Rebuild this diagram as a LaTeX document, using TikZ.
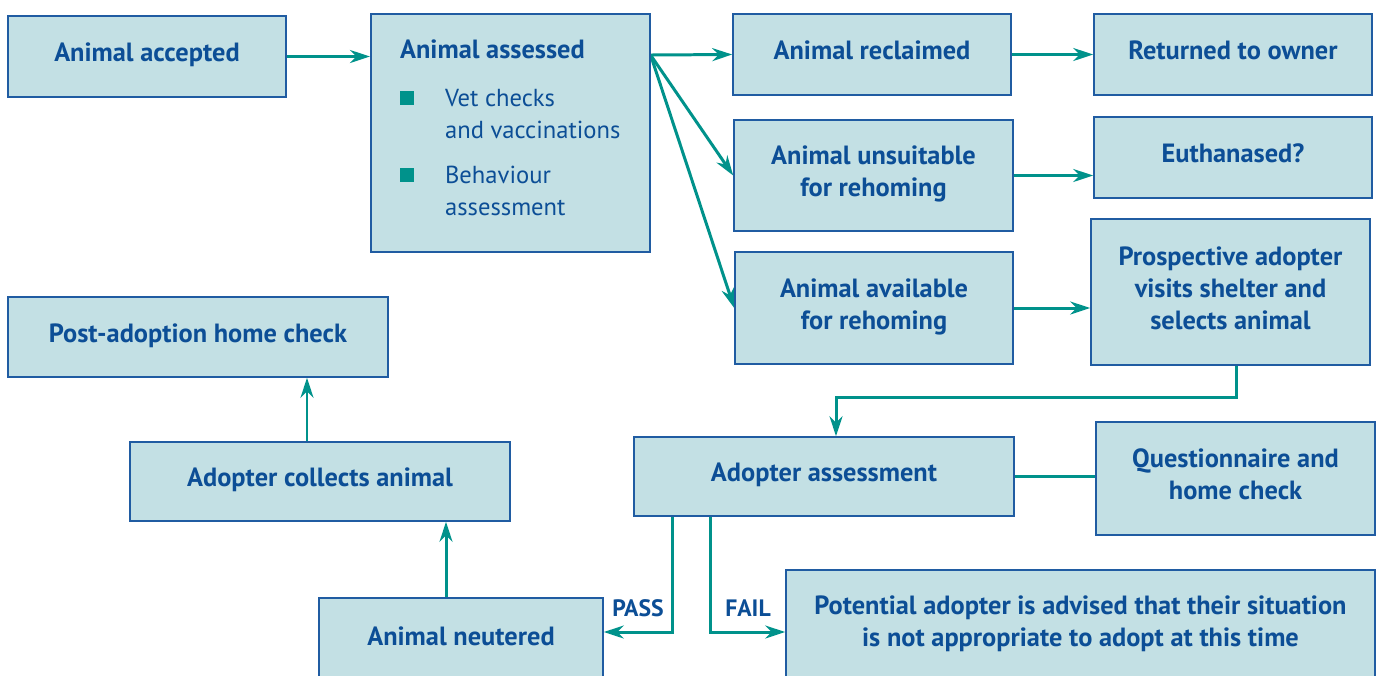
\documentclass[tikz,border=0pt]{standalone}
\usepackage{fontspec}
\setmainfont{PT Sans}
\usepackage{tikz}
\usetikzlibrary{arrows.meta}
\pgfdeclarelayer{bg}
\pgfsetlayers{bg,main}
\definecolor{boxfill}{RGB}{195,224,228}
\definecolor{boxline}{RGB}{32,92,162}
\definecolor{boxtext}{RGB}{12,78,150}
\definecolor{flow}{RGB}{0,146,139}
\tikzset{
  stage/.style={draw=boxline, line width=0.9pt, fill=boxfill, text=boxtext,
    font=\fontsize{15}{18.2}\selectfont\bfseries, align=center, inner sep=0pt,
    text depth=0.16cm, minimum width=5.56cm, minimum height=1.62cm},
  flowarrow/.style={draw=flow, line width=1.7pt, -{Stealth[length=4mm,width=2.6mm]}},
  flowline/.style={draw=flow, line width=1.7pt},
  verdict/.style={text=boxtext, font=\fontsize{13.5}{16}\selectfont\bfseries, inner sep=0pt}
}
\newcommand{\bulletsq}{\makebox[0.9cm][l]{\textcolor{flow}{\rule[0.03cm]{0.27cm}{0.27cm}}}}
\newcommand{\checkfont}{\mdseries\fontsize{14}{17.4}\selectfont}
\begin{document}
\begin{tikzpicture}
        \useasboundingbox (0,0) rectangle (27.58,-13.5);
        \node (accepted) [stage] at (2.94cm, -1.13cm) {Animal accepted};
        \node (assessed) [stage, anchor=north west, minimum width=5.58cm, minimum height=4.76cm,
          align=left, text depth=0.22cm, inner xsep=0.46cm] at (7.40cm, -0.26cm)
          {Animal assessed\\[0.32cm]
           {\checkfont\bulletsq Vet checks}\\
           {\checkfont\hspace*{0.9cm}and vaccinations}\\[0.26cm]
           {\checkfont\bulletsq Behaviour}\\
           {\checkfont\hspace*{0.9cm}assessment}};
        \node (reclaimed) [stage] at (17.44cm, -1.09cm) {Animal reclaimed};
        \node (returned) [stage] at (24.66cm, -1.09cm) {Returned to owner};
        \node (unsuitable) [stage, minimum width=5.58cm, minimum height=2.22cm] at (17.47cm, -3.51cm) {Animal unsuitable\\for rehoming};
        \node (euthanased) [stage] at (24.66cm, -3.15cm) {Euthanased?};
        \node (available) [stage, minimum height=2.24cm] at (17.48cm, -6.16cm) {Animal available\\for rehoming};
        \node (prospective) [stage, minimum width=5.58cm, minimum height=2.92cm] at (24.61cm, -5.84cm) {Prospective adopter\\visits shelter and\\selects animal};
        \node (homecheck) [stage, minimum width=7.60cm, minimum height=1.60cm] at (3.96cm, -6.74cm) {Post-adoption home check};
        \node (collects) [stage, minimum width=7.60cm, minimum height=1.58cm] at (6.40cm, -9.63cm) {Adopter collects animal};
        \node (adopter) [stage, minimum width=7.60cm, minimum height=1.58cm] at (16.48cm, -9.53cm) {Adopter assessment};
        \node (questionnaire) [stage, minimum width=5.58cm, minimum height=2.26cm] at (24.71cm, -9.57cm) {Questionnaire and\\home check};
        \node (neutered) [stage, minimum width=5.68cm, minimum height=1.68cm] at (9.22cm, -12.80cm) {Animal neutered};
        \node (advised) [stage, minimum width=11.78cm, minimum height=2.20cm] at (21.61cm, -12.50cm) {Potential adopter is advised that their situation\\is not appropriate to adopt at this time};
        \node (pass) [verdict] at (12.76cm, -12.16cm) {PASS};
        \node (fail) [verdict] at (14.96cm, -12.16cm) {FAIL};
        \coordinate (fork) at ([yshift=-0.84cm]assessed.north east);
        \begin{pgfonlayer}{bg}
                \draw (accepted.east) edge [flowarrow] (accepted.east -| assessed.west);
                \draw (fork) edge [flowarrow] (reclaimed.west);
                \draw (fork) edge [flowarrow] (unsuitable.west);
                \draw (fork) edge [flowarrow] (available.west);
                \draw (reclaimed.east) edge [flowarrow] (returned.west);
                \draw (unsuitable.east) edge [flowarrow] (unsuitable.east -| euthanased.west);
                \draw (available.east) edge [flowarrow] (available.east -| prospective.west);
                \draw [flowarrow] ([xshift=0.11cm]prospective.south) |- ([xshift=0.24cm, yshift=0.78cm]adopter.north) -- ([xshift=0.24cm]adopter.north);
                \draw (adopter.east) edge [flowline] (adopter.east -| questionnaire.west);
                \draw [flowarrow] ([xshift=-3.04cm]adopter.south) |- ([yshift=0.16cm]neutered.east);
                \draw [flowarrow] ([xshift=-2.28cm]adopter.south) |- ([yshift=-0.14cm]advised.west);
                \draw [flowarrow] ([xshift=-0.30cm]neutered.north) -- ([xshift=-0.30cm]neutered.north |- collects.south);
                \draw [flowarrow] ([xshift=-0.26cm]collects.north) -- ([xshift=-0.26cm]collects.north |- homecheck.south);
        \end{pgfonlayer}
\end{tikzpicture}
\end{document}
